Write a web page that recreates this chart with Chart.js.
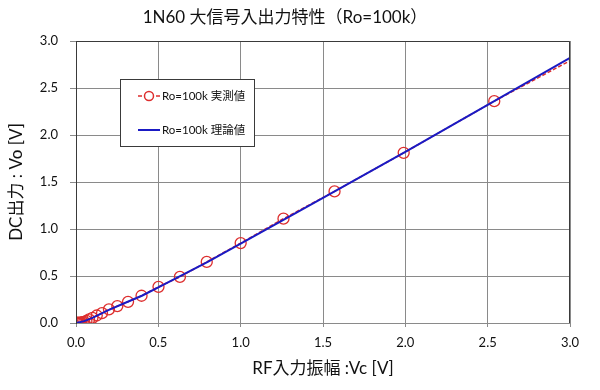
<!DOCTYPE html>
<html>
<head>
<meta charset="utf-8">
<script src="https://cdn.jsdelivr.net/npm/chart.js@4/dist/chart.umd.min.js"></script>
<style>
html,body{margin:0;padding:0;background:#fff;}
#wrap{width:600px;height:390px;}
</style>
</head>
<body>
<div id="wrap"><canvas id="c" width="600" height="390"></canvas></div>
<script>
const titleText = "1N60 大信号入出力特性（Ro=100k）";
const xTitle = "RF入力振幅 :Vc [V]";
const yTitle = "DC出力 : Vo [V]";
const measuredLabel = "Ro=100k 実測値";
const theoryLabel = "Ro=100k 理論値";

const measuredX = [0.005,0.008,0.010,0.0126,0.0158,0.020,0.0251,0.0316,0.0398,0.0501,0.0631,0.0794,0.100,0.126,0.158,0.200,0.251,0.316,0.398,0.501,0.631,0.794,1.00,1.26,1.57,1.99,2.54,3.00];
const measuredY = [0.000,0.000,0.000,0.001,0.001,0.002,0.003,0.005,0.008,0.013,0.022,0.038,0.055,0.080,0.105,0.145,0.180,0.225,0.290,0.385,0.490,0.650,0.850,1.110,1.400,1.810,2.360,2.790];
const theoryX = [0,0.05,0.10,0.20,0.30,0.40,0.50,0.60,0.80,1.00,1.50,2.00,2.50,3.00];
const theoryY = [0,0.020,0.055,0.140,0.215,0.290,0.380,0.470,0.650,0.845,1.330,1.820,2.320,2.820];
const xTicks = [0,0.5,1.0,1.5,2.0,2.5,3.0];
const yTicks = [0,0.5,1.0,1.5,2.0,2.5,3.0];

const FONT = "Lato, 'Noto Sans CJK JP', sans-serif";
const RED = '#dd2e2e';
const BLUE = '#1a1ac4';

const measuredPts = measuredX.map((x,i)=>({x:x,y:measuredY[i]}));
const theoryPts = theoryX.map((x,i)=>({x:x,y:theoryY[i]}));
const markerRadius = measuredX.map((x,i)=> i===measuredX.length-1 ? 0 : 5.5);

const framePlugin = {
  id:'frame',
  afterDatasetsDraw(chart){
    const {ctx, chartArea:a} = chart;
    ctx.save();
    ctx.strokeStyle = '#3a3a3a';
    ctx.lineWidth = 1;
    ctx.beginPath();
    ctx.moveTo(a.left+0.5, a.bottom);
    ctx.lineTo(a.left+0.5, a.top+0.5);
    ctx.lineTo(a.right-0.5, a.top+0.5);
    ctx.lineTo(a.right-0.5, a.bottom);
    ctx.stroke();
    ctx.restore();
  }
};

const legendPlugin = {
  id:'boxLegend',
  afterDraw(chart){
    const ctx = chart.ctx;
    const bx = 120, by = 79, bw = 134, bh = 67;
    ctx.save();
    ctx.fillStyle = '#fff';
    ctx.fillRect(bx, by, bw, bh);
    ctx.strokeStyle = '#3a3a3a';
    ctx.lineWidth = 1;
    ctx.strokeRect(bx+0.5, by+0.5, bw, bh);
    const ds = chart.data.datasets;
    let y1 = by + 17;
    ctx.strokeStyle = RED; ctx.lineWidth = 1.5; ctx.setLineDash([4,2]);
    ctx.beginPath(); ctx.moveTo(bx+18, y1); ctx.lineTo(bx+40, y1); ctx.stroke();
    ctx.setLineDash([]);
    ctx.fillStyle='#fff';
    ctx.beginPath(); ctx.arc(bx+29, y1, 4.5, 0, Math.PI*2); ctx.fill(); ctx.stroke();
    ctx.fillStyle = '#111';
    ctx.font = "11.5px " + FONT;
    ctx.textBaseline = 'middle';
    ctx.fillText(ds[0].label, bx+42, y1);
    let y2 = by + 51;
    ctx.strokeStyle = BLUE; ctx.lineWidth = 2;
    ctx.beginPath(); ctx.moveTo(bx+18, y2); ctx.lineTo(bx+40, y2); ctx.stroke();
    ctx.fillText(ds[1].label, bx+42, y2);
    ctx.restore();
  }
};

new Chart(document.getElementById('c'), {
  type:'scatter',
  data:{
    datasets:[
      {
        label: measuredLabel,
        data: measuredPts,
        showLine:true,
        borderColor: RED,
        borderWidth: 1.5,
        borderDash:[4,2],
        pointStyle:'circle',
        pointRadius: markerRadius,
        pointBorderColor: RED,
        pointBackgroundColor: 'rgba(255,255,255,0)',
        pointBorderWidth: 1.3,
        order: 1
      },
      {
        label: theoryLabel,
        data: theoryPts,
        showLine:true,
        borderColor: BLUE,
        borderWidth: 2,
        pointRadius: 0,
        order: 0
      }
    ]
  },
  options:{
    responsive:false,
    animation:false,
    devicePixelRatio:1,
    layout:{padding:{top:0,right:30,bottom:0,left:0}},
    plugins:{
      legend:{display:false},
      tooltip:{enabled:false},
      title:{
        display:true,
        text:titleText,
        color:'#111',
        font:{family:FONT,size:17,weight:'normal'},
        padding:{top:7,bottom:13.6}
      }
    },
    scales:{
      x:{
        type:'linear',
        min:0,max:3,
        afterFit(s){ s.height = 67; },
        afterBuildTicks(s){ s.ticks = xTicks.map(v=>({value:v})); },
        ticks:{
          color:'#111',
          font:{family:FONT,size:13},
          padding:8,
          maxRotation:0,
          callback:(v)=>Number(v).toFixed(1)
        },
        grid:{color:'#8a8a8a',lineWidth:1,tickLength:4,drawTicks:true},
        border:{display:true,color:'#8a8a8a'},
        title:{display:true,text:xTitle,color:'#111',font:{family:FONT,size:17},padding:{top:0,bottom:10.8}}
      },
      y:{
        type:'linear',
        min:0,max:3,
        afterFit(s){ s.width = 76; },
        afterBuildTicks(s){ s.ticks = yTicks.map(v=>({value:v})); },
        ticks:{
          color:'#111',
          font:{family:FONT,size:13},
          padding:12,
          callback:(v)=>Number(v).toFixed(1)
        },
        grid:{color:'#8a8a8a',lineWidth:1,tickLength:6,drawTicks:true},
        border:{display:true,color:'#3a3a3a'},
        title:{display:true,text:yTitle,color:'#111',font:{family:FONT,size:17},padding:{top:6.8,bottom:0}}
      }
    }
  },
  plugins:[framePlugin, legendPlugin]
});
</script>
</body>
</html>
